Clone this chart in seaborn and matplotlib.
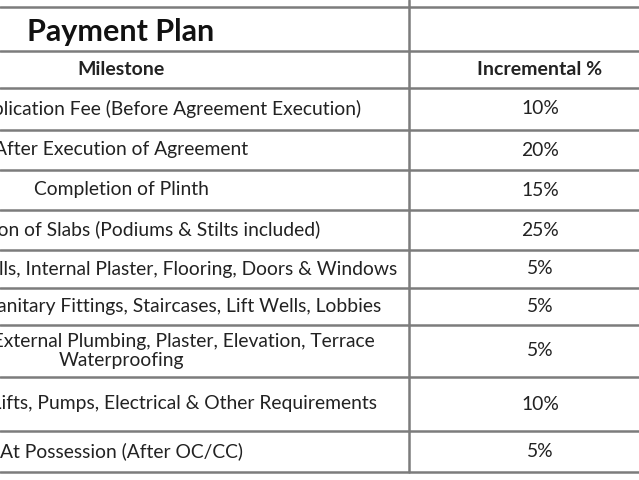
import matplotlib
matplotlib.use("Agg")
import matplotlib.pyplot as plt
import seaborn as sns

# table data
title = "Payment Plan"
headers = ["Milestone", "Incremental %"]
milestones = [
    "Booking / Application Fee (Before Agreement Execution)",
    "After Execution of Agreement",
    "Completion of Plinth",
    "Completion of Slabs (Podiums & Stilts included)",
    "Completion of Walls, Internal Plaster, Flooring, Doors & Windows",
    "Completion of Sanitary Fittings, Staircases, Lift Wells, Lobbies",
    "Completion of External Plumbing, Plaster, Elevation, Terrace\nWaterproofing",
    "Completion of Lifts, Pumps, Electrical & Other Requirements",
    "At Possession (After OC/CC)",
]
increments = [10, 20, 15, 25, 5, 5, 5, 10, 5]

sns.set_theme(style="white")
plt.rcParams["font.family"] = ["Lato", "DejaVu Sans"]

fig = plt.figure(figsize=(6.39, 4.8), dpi=100)
ax = fig.add_axes([0, 0, 1, 1])
ax.set_xlim(0, 639)
ax.set_ylim(480, 0)
ax.axis("off")

# layout (pixel grid of the table)
edges = [7, 51, 88, 130, 170, 210, 250, 288, 325, 377, 431, 472]
col_split = 409
col1_center = 121
col2_center = 540
line_kw = dict(color="#7c7c7c", lw=1.8)

for y in edges:
    ax.plot([0, 639], [y, y], **line_kw)
ax.plot([col_split, col_split], [0, edges[-1]], **line_kw)

txt = "#222222"
ax.text(col1_center, (edges[0] + edges[1]) / 2 + 3, title, ha="center", va="center",
        fontsize=22, fontweight="bold", color="#111111")
for x, h in zip([col1_center, col2_center], headers):
    ax.text(x, (edges[1] + edges[2]) / 2, h, ha="center", va="center",
            fontsize=14, fontweight="bold", color=txt)

for i, (m, p) in enumerate(zip(milestones, increments)):
    yc = (edges[i + 2] + edges[i + 3]) / 2
    ax.text(col1_center, yc, m, ha="center", va="center", fontsize=13.9,
            color=txt, linespacing=1.15)
    ax.text(col2_center, yc, f"{p}%", ha="center", va="center", fontsize=13.9, color=txt)

fig.savefig("out.png", dpi=100, facecolor="white")
